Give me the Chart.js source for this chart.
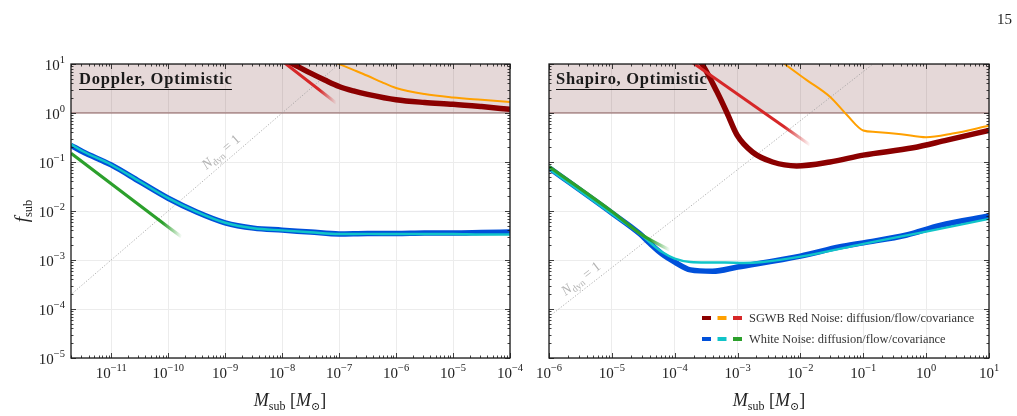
<!DOCTYPE html>
<html>
<head>
<meta charset="utf-8">
<script src="https://cdn.jsdelivr.net/npm/chart.js@4.4.1/dist/chart.umd.min.js"></script>
<style>
  html, body { margin: 0; padding: 0; background: #fff; }
  #wrap { position: relative; width: 1017px; height: 416px; }
  canvas { position: absolute; left: 0; top: 0; }
</style>
</head>
<body>
<div id="wrap">
  <canvas id="doppler" width="1017" height="416"></canvas>
  <canvas id="shapiro" width="1017" height="416"></canvas>
</div>
<script>
// ---- shared axis ----
var fsubRange = [1e-5, 10];
var fsubTicks = [1e-5, 1e-4, 1e-3, 1e-2, 1e-1, 1, 10];
var thresholdF = [1, 1];

// ---- Doppler, Optimistic (left) ----
var dopplerMassRange = [1.97e-12, 1e-4];
var dopplerTicksM = [1e-11, 1e-10, 1e-9, 1e-8, 1e-7, 1e-6, 1e-5, 1e-4];

var dopplerRedDiffusionM = [1e-8, 1.78e-8, 3.16e-8, 5.6e-8, 1e-7, 1.78e-7, 3.16e-7, 1e-6, 3.16e-6, 1e-5, 3.16e-5, 1e-4];
var dopplerRedDiffusionF = [12.9, 9.2, 6.5, 4.7, 3.47, 2.82, 2.4, 1.86, 1.64, 1.51, 1.35, 1.19];
var dopplerRedFlowM = [5.6e-8, 1e-7, 1.78e-7, 3.16e-7, 5.6e-7, 1e-6, 3.16e-6, 1e-5, 3.16e-5, 1e-4];
var dopplerRedFlowF = [13.2, 10, 7.6, 5.75, 4.27, 3.24, 2.43, 2.07, 1.86, 1.68];
var dopplerRedCovM = [8e-9, 1.17e-8, 8.9e-8];
var dopplerRedCovF = [14, 10, 1.6];

var dopplerWhiteM = [1.97e-12, 3.16e-12, 1e-11, 3.16e-11, 1e-10, 3.16e-10, 1e-9, 3.16e-9, 1e-8, 3.16e-8, 1e-7, 3.16e-7, 1e-6, 3.16e-6, 1e-5, 3.16e-5, 1e-4];
var dopplerWhiteDiffusionF = [0.219, 0.162, 0.0871, 0.0398, 0.0182, 0.00955, 0.00575, 0.00447, 0.00407, 0.00372, 0.00339, 0.00347, 0.00347, 0.00355, 0.00355, 0.00363, 0.00372];
var dopplerWhiteFlowF = [0.229, 0.166, 0.0881, 0.0401, 0.0183, 0.0096, 0.00575, 0.00445, 0.00402, 0.00368, 0.00339, 0.00342, 0.00339, 0.00339, 0.00339, 0.00331, 0.00331];
var dopplerWhiteCovM = [1.97e-12, 1e-11, 1e-10, 1.7e-10];
var dopplerWhiteCovF = [0.151, 0.036, 0.0047, 0.003];

var dopplerNdynM = [1e-12, 1e-7];
var dopplerNdynF = [1e-4, 10];

// ---- Shapiro, Optimistic (right) ----
var shapiroMassRange = [1e-6, 10];
var shapiroTicksM = [1e-6, 1e-5, 1e-4, 1e-3, 1e-2, 1e-1, 1, 10];

var shapiroRedDiffusionM = [1.58e-4, 2.7e-4, 4.7e-4, 6.8e-4, 9.8e-4, 1.74e-3, 3.6e-3, 8.7e-3, 2.95e-2, 0.1, 0.62, 2.14, 10];
var shapiroRedDiffusionF = [20, 10, 2.7, 1.0, 0.355, 0.158, 0.1, 0.083, 0.1, 0.138, 0.195, 0.28, 0.44];
var shapiroRedFlowM = [3.98e-3, 5.6e-3, 1.26e-2, 2.95e-2, 5.5e-2, 0.1, 0.158, 0.4, 1.0, 2.63, 10];
var shapiroRedFlowF = [14, 10, 4.7, 2.14, 0.91, 0.44, 0.41, 0.37, 0.32, 0.38, 0.55];
var shapiroRedCovM = [1.41e-4, 1.41e-2];
var shapiroRedCovF = [14.1, 0.224];

var shapiroWhiteDiffusionM = [1e-6, 1e-5, 2.8e-5, 4e-5, 6.3e-5, 1e-4, 1.78e-4, 4e-4, 1e-3, 1e-2, 4.3e-2, 0.1, 0.49, 1.66, 10];
var shapiroWhiteDiffusionF = [0.076, 0.0091, 0.0034, 0.0022, 0.00132, 0.00091, 0.00063, 0.00059, 0.00072, 0.0012, 0.00186, 0.00224, 0.00324, 0.0051, 0.0079];
var shapiroWhiteFlowM = [1e-6, 1e-5, 2.8e-5, 4e-5, 6.3e-5, 1e-4, 1.78e-4, 3.16e-4, 6.3e-4, 1.26e-3, 2.5e-3, 1e-2, 0.1, 1, 10];
var shapiroWhiteFlowF = [0.072, 0.0087, 0.0034, 0.0023, 0.00145, 0.00107, 0.00091, 0.00089, 0.00089, 0.00087, 0.00091, 0.00117, 0.00214, 0.0038, 0.0069];
var shapiroWhiteCovM = [1e-6, 1e-5, 3.2e-5, 8.3e-5];
var shapiroWhiteCovF = [0.081, 0.0098, 0.0031, 0.0016];

var shapiroNdynM = [1e-6, 0.143];
var shapiroNdynF = [7e-5, 10];

// ---- styles ----
var SERIF = "'Liberation Serif', 'DejaVu Serif', serif";
var DARKRED = [139, 0, 0], ORANGE = [255, 160, 0], RED = [214, 39, 40];
var BLUE = [0, 80, 218], CYAN = [16, 196, 200], GREEN = [44, 160, 44];

function rgba(c, a) { return 'rgba(' + c[0] + ',' + c[1] + ',' + c[2] + ',' + a + ')'; }
function pts(ms, fs) { return ms.map(function(m, i) { return {x: m, y: fs[i]}; }); }

// line that fades to transparent between two masses
function fade(c, from, to) {
    return function(ctx) {
        var ch = ctx.chart, xs = ch.scales.x;
        if (!ch.chartArea || !xs) return rgba(c, 1);
        var g = ch.ctx.createLinearGradient(xs.getPixelForValue(from), 0, xs.getPixelForValue(to), 0);
        g.addColorStop(0, rgba(c, 1));
        g.addColorStop(1, rgba(c, 0));
        return g;
    };
}

function curve(data, color, width) {
    return {
        data: data, borderColor: color, borderWidth: width, pointRadius: 0,
        fill: false, cubicInterpolationMode: 'monotone', clip: 0
    };
}

function straight(data, color, width) {
    return {
        data: data, borderColor: color, borderWidth: width, pointRadius: 0,
        fill: false, tension: 0, clip: 0
    };
}

function band(range) {
    return {
        data: pts(range, thresholdF), borderColor: '#8c5f5f', borderWidth: 1.2,
        backgroundColor: 'rgba(110,40,40,0.18)', fill: 'end', pointRadius: 0, clip: 0
    };
}

function ndyn(ms, fs) {
    return {
        data: pts(ms, fs), borderColor: '#9a9a9a', borderWidth: 0.8, borderDash: [1.2, 1.8],
        pointRadius: 0, fill: false, clip: 0
    };
}

// ---- text helpers ----
function runs(ctx, parts, x, y, align) {
    var w = 0;
    parts.forEach(function(p) { ctx.font = p.f; p.w = ctx.measureText(p.t).width; w += p.w; });
    var cx = align === 'center' ? x - w / 2 : (align === 'right' ? x - w : x);
    ctx.textAlign = 'left';
    ctx.textBaseline = 'alphabetic';
    parts.forEach(function(p) { ctx.font = p.f; ctx.fillText(p.t, cx, y + (p.dy || 0)); cx += p.w; });
    return w;
}
function it(s) { return 'italic ' + s + 'px ' + SERIF; }
function rm(s) { return s + 'px ' + SERIF; }

function powParts(v) {
    var e = Math.round(Math.log10(v));
    return [{t: '10', f: rm(15)}, {t: String(e).replace('-', '\u2212'), f: rm(10.5), dy: -7}];
}

function tickLabels(chart, showY) {
    var ctx = chart.ctx, xs = chart.scales.x, ys = chart.scales.y;
    ctx.save();
    ctx.fillStyle = '#222';
    xs.ticks.forEach(function(t) {
        runs(ctx, powParts(t.value), xs.getPixelForValue(t.value), 378, 'center');
    });
    if (showY) {
        ys.ticks.forEach(function(t) {
            runs(ctx, powParts(t.value), 65, ys.getPixelForValue(t.value) + 6, 'right');
        });
    }
    ctx.restore();
}

function massTitle(ctx, cx) {
    ctx.fillStyle = '#222';
    runs(ctx, [
        {t: 'M', f: it(18)}, {t: 'sub', f: rm(12), dy: 4},
        {t: ' [', f: rm(18)}, {t: 'M', f: it(18)}, {t: '⊙', f: rm(11), dy: 4}, {t: ']', f: rm(18)}
    ], cx, 406, 'center');
}

function panelTitle(ctx, text, x, target) {
    ctx.save();
    ctx.font = 'bold 16.5px ' + SERIF;
    var w0 = ctx.measureText(text).width;
    var sp = Math.max(0, Math.min(1.2, (target - w0) / (text.length - 1)));
    ctx.letterSpacing = sp.toFixed(2) + 'px';
    var w = ctx.measureText(text).width - sp;
    ctx.fillStyle = '#1a1a1a';
    ctx.textAlign = 'left';
    ctx.textBaseline = 'alphabetic';
    ctx.fillText(text, x, 84);
    ctx.strokeStyle = '#111';
    ctx.lineWidth = 1.2;
    ctx.beginPath();
    ctx.moveTo(x, 89.5);
    ctx.lineTo(x + w, 89.5);
    ctx.stroke();
    ctx.restore();
}

function ndynLabel(chart, ms, fs, t) {
    var xs = chart.scales.x, ys = chart.scales.y, ctx = chart.ctx;
    var lm = Math.log10(ms[0]) + t * (Math.log10(ms[1]) - Math.log10(ms[0]));
    var lf = Math.log10(fs[0]) + t * (Math.log10(fs[1]) - Math.log10(fs[0]));
    var x0 = xs.getPixelForValue(Math.pow(10, lm)), y0 = ys.getPixelForValue(Math.pow(10, lf));
    var x1 = xs.getPixelForValue(ms[1]), y1 = ys.getPixelForValue(fs[1]);
    var ang = Math.atan2(y1 - y0, x1 - x0);
    ctx.save();
    ctx.translate(x0, y0);
    ctx.rotate(ang);
    ctx.fillStyle = '#b4b4b4';
    runs(ctx, [{t: 'N', f: it(14)}, {t: 'dyn', f: rm(9.5), dy: 3}, {t: ' = 1', f: rm(14)}], 0, -6, 'center');
    ctx.restore();
}

function frameAndTicks(chart) {
    var ctx = chart.ctx, a = chart.chartArea, xs = chart.scales.x, ys = chart.scales.y;
    ctx.save();
    ctx.strokeStyle = '#111';
    ctx.lineWidth = 0.8;
    ctx.beginPath();
    [[xs, true], [ys, false]].forEach(function(pair) {
        var s = pair[0], horiz = pair[1];
        var lo = Math.floor(Math.log10(s.min)), hi = Math.ceil(Math.log10(s.max));
        for (var e = lo; e <= hi; e++) {
            for (var k = 1; k <= 9; k++) {
                var v = k * Math.pow(10, e);
                if (v < s.min * 0.999 || v > s.max * 1.001) continue;
                var len = k === 1 ? 5 : 2.5;
                var p = Math.round(s.getPixelForValue(v)) + 0.5;
                if (horiz) {
                    ctx.moveTo(p, a.bottom); ctx.lineTo(p, a.bottom - len);
                    ctx.moveTo(p, a.top); ctx.lineTo(p, a.top + len);
                } else {
                    ctx.moveTo(a.left, p); ctx.lineTo(a.left + len, p);
                    ctx.moveTo(a.right, p); ctx.lineTo(a.right - len, p);
                }
            }
        }
    });
    ctx.stroke();
    ctx.lineWidth = 1.3;
    ctx.strokeStyle = '#1a1a1a';
    ctx.strokeRect(a.left, a.top, a.right - a.left, a.bottom - a.top);
    ctx.restore();
}

function legend(ctx) {
    var rows = [
        {colors: [DARKRED, ORANGE, RED], text: 'SGWB Red Noise: diffusion/flow/covariance', y: 318},
        {colors: [BLUE, CYAN, GREEN], text: 'White Noise: diffusion/flow/covariance', y: 339}
    ];
    ctx.save();
    ctx.font = rm(12);
    var fs = Math.max(10.5, Math.min(13, 12 * 226 / ctx.measureText(rows[0].text).width));
    rows.forEach(function(r) {
        r.colors.forEach(function(c, i) {
            ctx.strokeStyle = rgba(c, 1);
            ctx.lineWidth = 4;
            ctx.beginPath();
            ctx.moveTo(702 + i * 15.5, r.y);
            ctx.lineTo(711 + i * 15.5, r.y);
            ctx.stroke();
        });
        ctx.fillStyle = '#333';
        ctx.font = rm(fs.toFixed(1));
        ctx.textAlign = 'left';
        ctx.textBaseline = 'middle';
        ctx.fillText(r.text, 749, r.y + 0.5);
    });
    ctx.restore();
}

// ---- chart builder ----
function axis(range, ticks, size, horiz) {
    return {
        type: 'logarithmic', min: range[0], max: range[1],
        afterBuildTicks: function(s) { s.ticks = ticks.map(function(v) { return {value: v}; }); },
        afterFit: function(s) { if (horiz) s.height = size; else s.width = size; },
        border: {display: false},
        grid: {color: '#ececec', lineWidth: 1, drawTicks: false},
        ticks: {display: false}
    };
}

function makeChart(id, datasets, xRange, xTicks, pad, yWidth, deco) {
    return new Chart(document.getElementById(id), {
        type: 'line',
        data: {datasets: datasets},
        options: {
            responsive: false, animation: false, events: [],
            layout: {padding: {left: pad[0], right: pad[1], top: 64, bottom: 0}},
            scales: {
                x: axis(xRange, xTicks, 58, true),
                y: axis(fsubRange, fsubTicks, yWidth, false)
            },
            plugins: {legend: {display: false}, tooltip: {enabled: false}}
        },
        plugins: [{id: 'deco_' + id, afterDraw: deco}]
    });
}

// first dataset is drawn on top
var dopplerSets = [
    straight(pts(dopplerWhiteCovM, dopplerWhiteCovF), fade(GREEN, 8e-11, 1.75e-10), 3.2),
    curve(pts(dopplerWhiteM, dopplerWhiteFlowF), rgba(CYAN, 1), 2.4),
    curve(pts(dopplerWhiteM, dopplerWhiteDiffusionF), rgba(BLUE, 1), 5.5),
    straight(pts(dopplerRedCovM, dopplerRedCovF), fade(RED, 4.5e-8, 9e-8), 3),
    curve(pts(dopplerRedFlowM, dopplerRedFlowF), rgba(ORANGE, 1), 2),
    curve(pts(dopplerRedDiffusionM, dopplerRedDiffusionF), rgba(DARKRED, 1), 5.5),
    ndyn(dopplerNdynM, dopplerNdynF),
    band(dopplerMassRange)
];

var shapiroSets = [
    curve(pts(shapiroWhiteCovM, shapiroWhiteCovF), fade(GREEN, 4e-5, 8.5e-5), 3.2),
    curve(pts(shapiroWhiteFlowM, shapiroWhiteFlowF), rgba(CYAN, 1), 2.4),
    curve(pts(shapiroWhiteDiffusionM, shapiroWhiteDiffusionF), rgba(BLUE, 1), 5.5),
    straight(pts(shapiroRedCovM, shapiroRedCovF), fade(RED, 5.5e-3, 1.45e-2), 3),
    curve(pts(shapiroRedFlowM, shapiroRedFlowF), rgba(ORANGE, 1), 2),
    curve(pts(shapiroRedDiffusionM, shapiroRedDiffusionF), rgba(DARKRED, 1), 5.5),
    ndyn(shapiroNdynM, shapiroNdynF),
    band(shapiroMassRange)
];

makeChart('doppler', dopplerSets, dopplerMassRange, dopplerTicksM, [0, 507], 71, function(chart) {
    var ctx = chart.ctx;
    frameAndTicks(chart);
    tickLabels(chart, true);
    ctx.save();
    ndynLabel(chart, dopplerNdynM, dopplerNdynF, 0.609);
    panelTitle(ctx, 'Doppler, Optimistic', 79, 153);
    massTitle(ctx, 290);
    // y axis title
    ctx.translate(28, 211);
    ctx.rotate(-Math.PI / 2);
    ctx.fillStyle = '#222';
    runs(ctx, [{t: 'f', f: it(19)}, {t: 'sub', f: rm(12.5), dy: 4}], 0, 0, 'center');
    ctx.restore();
    // page number
    ctx.save();
    ctx.fillStyle = '#222';
    ctx.font = rm(15);
    ctx.textAlign = 'right';
    ctx.textBaseline = 'alphabetic';
    ctx.fillText('15', 1012, 24);
    ctx.restore();
});

makeChart('shapiro', shapiroSets, shapiroMassRange, shapiroTicksM, [520, 28], 29, function(chart) {
    var ctx = chart.ctx;
    frameAndTicks(chart);
    tickLabels(chart, false);
    ctx.save();
    ndynLabel(chart, shapiroNdynM, shapiroNdynF, 0.118);
    panelTitle(ctx, 'Shapiro, Optimistic', 556, 151);
    massTitle(ctx, 769);
    legend(ctx);
    ctx.restore();
});
</script>
</body>
</html>
